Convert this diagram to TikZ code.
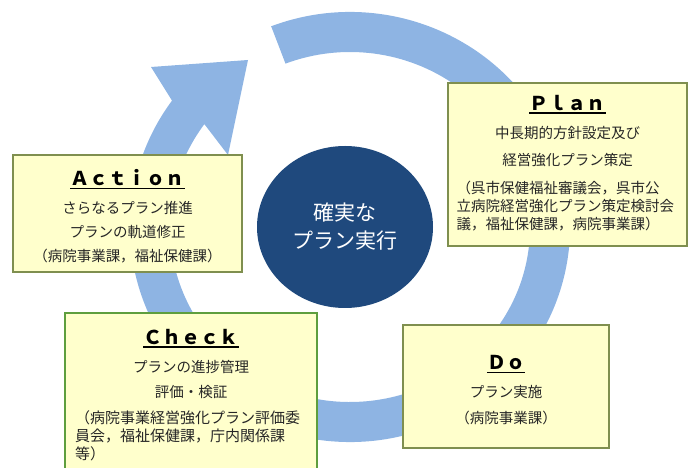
\documentclass[tikz,border=0pt]{standalone}
\usepackage{fontspec}
\setmainfont{Noto Sans CJK JP}
\usetikzlibrary{shapes.geometric}
\definecolor{ringblue}{HTML}{8EB4E3}
\definecolor{hubnavy}{HTML}{1F497D}
\definecolor{boxfill}{HTML}{FFFFCC}
\definecolor{boxedge}{HTML}{7F8F4F}
\definecolor{checkedge}{HTML}{5E9E3E}
\tikzset{
  pdcabox/.style={draw=boxedge,line width=1.3pt,fill=boxfill,inner sep=0pt},
  boxhead/.style={font=\fontsize{19}{22}\selectfont\bfseries,inner sep=0pt},
  boxline/.style={font=\fontsize{14.5}{18}\selectfont,text=black!85,inner sep=0pt},
  boxpara/.style={boxline,align=left},
  headrule/.style={line width=1.3pt},
  hub/.style={ellipse,fill=hubnavy,text=white,inner sep=0pt,align=center,
    font=\fontsize{21}{28}\selectfont,minimum width=176pt,minimum height=162pt}
}
\begin{document}
\begin{tikzpicture}[x=1pt,y=1pt]
    \useasboundingbox (0,0) rectangle (688,468);
    \begin{scope}[shift={(350,241)}]
        \fill[ringblue] (111:220 and 215)
            arc[start angle=111,end angle=-216,x radius=220pt,y radius=215pt]
            -- (-199,160) -- (-102,167) -- (-122,72) -- (-216:180 and 175)
            arc[start angle=-216,end angle=111,x radius=180pt,y radius=175pt] -- cycle;
    \end{scope}
    \node[hub] (hubdisc) at (345,241) {確実な\\プラン実行};

    \node[pdcabox,minimum width=239pt,minimum height=163pt] (plan) at (567.5,303.5) {};
    \node[boxhead] (planhead) at (567.5,365) {Ｐｌａｎ};
    \draw[headrule] ([yshift=-2.5pt]planhead.base west) -- ([yshift=-2.5pt]planhead.base east);
    \node[boxline] (planone) at (567.5,335) {中長期的方針設定及び};
    \node[boxline] (plantwo) at (567.5,308) {経営強化プラン策定};
    \node[boxpara,text width=222pt] (planpara) at (567.5,262) {（呉市保健福祉審議会，呉市公\\立病院経営強化プラン策定検討会\\議，福祉保健課，病院事業課）};

    \node[pdcabox,minimum width=229pt,minimum height=117pt] (action) at (127.5,254.5) {};
    \node[boxhead] (actionhead) at (127.5,290) {Ａｃｔｉｏｎ};
    \draw[headrule] ([yshift=-2.5pt]actionhead.base west) -- ([yshift=-2.5pt]actionhead.base east);
    \node[boxline] (actionone) at (127.5,260) {さらなるプラン推進};
    \node[boxline] (actiontwo) at (127.5,236) {プランの軌道修正};
    \node[boxline] (actionthree) at (127.5,212) {（病院事業課，福祉保健課）};

    \node[pdcabox,draw=checkedge,minimum width=252pt,minimum height=167pt] (check) at (191,71.5) {};
    \node[boxhead] (checkhead) at (191,131) {Ｃｈｅｃｋ};
    \draw[headrule] ([yshift=-2.5pt]checkhead.base west) -- ([yshift=-2.5pt]checkhead.base east);
    \node[boxline] (checkone) at (191,101) {プランの進捗管理};
    \node[boxline] (checktwo) at (191,76) {評価・検証};
    \node[boxpara,text width=232pt,font=\fontsize{15}{18}\selectfont] (checkpara) at (191,32) {（病院事業経営強化プラン評価委\\員会，福祉保健課，庁内関係課\\等）};

    \node[pdcabox,minimum width=206pt,minimum height=123pt] (do) at (506,81.5) {};
    \node[boxhead] (dohead) at (506,105) {Ｄｏ};
    \draw[headrule] ([yshift=-2.5pt]dohead.base west) -- ([yshift=-2.5pt]dohead.base east);
    \node[boxline] (doone) at (506,76) {プラン実施};
    \node[boxline] (dotwo) at (506,50) {（病院事業課）};
\end{tikzpicture}
\end{document}
